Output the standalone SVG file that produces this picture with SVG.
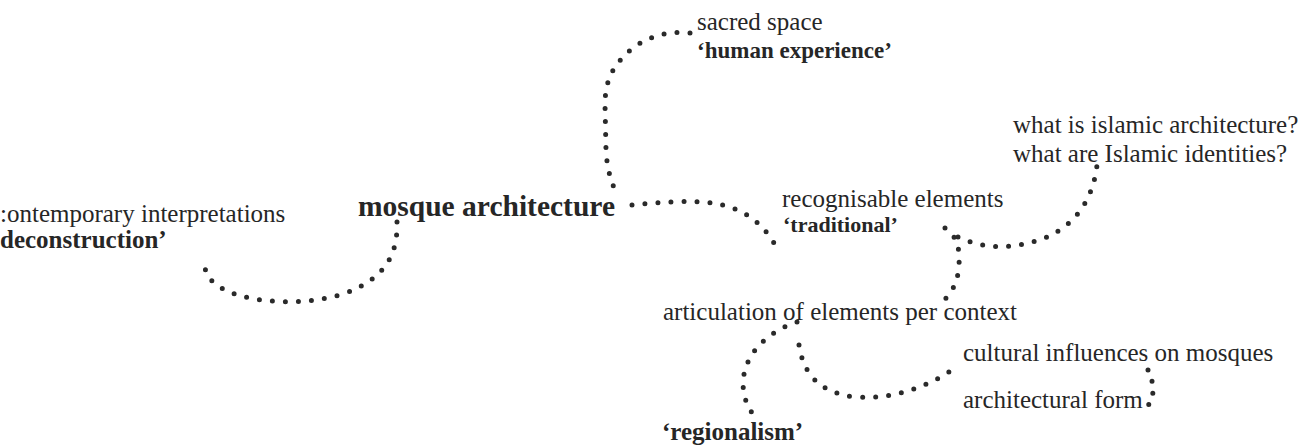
<svg xmlns="http://www.w3.org/2000/svg" width="1308" height="448" viewBox="0 0 1308 448">
<style>
  text { font-family: "Liberation Serif", "Times New Roman", serif; fill: #262626; font-size: 25px; }
  .b { font-weight: bold; }
  .big { font-weight: bold; font-size: 29.5px; }
  .dots { fill: none; stroke: #2a2a2a; stroke-width: 5; stroke-linecap: round; stroke-dasharray: 0 13; }
</style>
<rect width="1308" height="448" fill="#ffffff"/>
<g id="connectors">
  <path class="dots" d="M690,33 C662,30 640,40 625,55 C610,70 605,85 605,105 L606,150 C607,170 612,185 618,196"/>
  <path class="dots" d="M632,205 C660,202 690,200 712,203 C740,207 760,220 774,243"/>
  <path class="dots" d="M397,222 C398,255 385,280 340,295 C300,306 255,302 232,293 C215,286 206,278 205,267"/>
  <path class="dots" d="M958,237 C985,250 1015,249 1045,238 C1075,225 1093,200 1097,165"/>
  <path class="dots" d="M945,228 C957,236 960,248 959,265 C958,282 952,293 942,302"/>
  <path class="dots" d="M797,322 C772,330 745,350 743,382 C743,400 750,412 758,420"/>
  <path class="dots" d="M799,345 C803,370 815,392 855,397 C895,400 930,385 952,370"/>
  <path class="dots" style="stroke-dasharray:0 12" d="M1148,370 C1155,385 1155,398 1146,408"/>
</g>
<g id="node-mosque"><text class="big" x="358" y="216">mosque architecture</text></g>
<g id="node-sacred"><text x="697" y="30">sacred space</text><text class="b" x="697" y="58" style="font-size:23px">‘human experience’</text></g>
<g id="node-islamic"><text x="1013" y="133">what is islamic architecture?</text><text x="1013" y="162">what are Islamic identities?</text></g>
<g id="node-traditional"><text x="782" y="207">recognisable elements</text><text class="b" x="783" y="232" style="font-size:22px">‘traditional’</text></g>
<g id="node-contemporary"><text x="0" y="222">:ontemporary interpretations</text><text class="b" x="0" y="248">deconstruction’</text></g>
<g id="node-articulation"><text x="663" y="320">articulation of elements per context</text></g>
<g id="node-cultural"><text x="963" y="361">cultural influences on mosques</text></g>
<g id="node-form"><text x="963" y="408">architectural form</text></g>
<g id="node-regionalism"><text class="b" x="662" y="440">‘regionalism’</text></g>
</svg>
